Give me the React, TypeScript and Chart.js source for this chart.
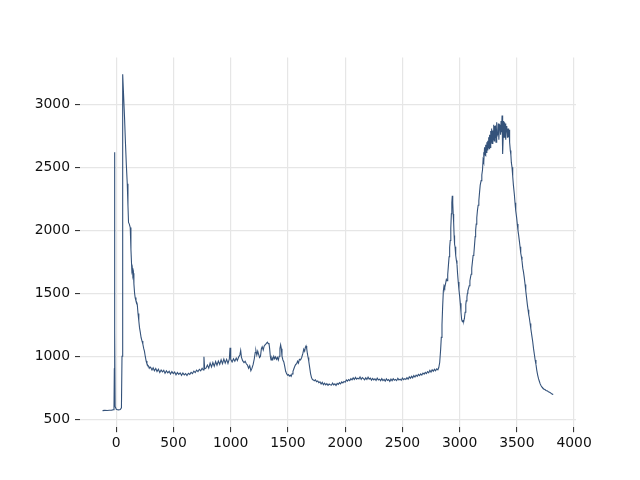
import React, { useEffect, useRef } from "react";
import { Chart, registerables } from "chart.js";

Chart.register(...registerables);

// Wavenumber positions (x)
const wavenumber: number[] = [
  -120, -100, -80, -60, -40, -25, -20, -17, -15, -13, -10, 0, 10, 20, 35, 45, 50, 54, 58, 65,
  72, 80, 88, 96, 102, 107, 114, 122, 128, 136, 140, 145, 150, 154, 160, 165, 172, 178, 183, 190,
  197, 203, 210, 217, 225, 232, 240, 246, 253, 261, 268, 275, 281, 288, 295,
  300, 312, 322, 333, 345, 356, 368, 380, 392, 404, 415, 426, 438, 450, 462, 474, 486, 498, 510,
  522, 534, 546, 558, 570, 582, 594, 606, 618, 630, 642, 654, 666, 678, 690, 702, 714, 726, 738,
  750, 760, 766, 772, 784,
  796, 808, 820, 832, 844, 856, 868, 880, 892, 904, 916, 928, 940, 952, 964, 976, 988, 994, 1000,
  1012, 1024, 1036, 1048, 1058, 1070, 1080, 1087, 1094, 1104, 1116, 1126, 1136, 1146, 1156, 1166,
  1176, 1186, 1196, 1206, 1214, 1220, 1228, 1236, 1244, 1252, 1260, 1268, 1275, 1284, 1292, 1300,
  1310, 1320, 1328, 1334, 1340, 1346, 1352, 1360, 1368, 1376, 1384, 1392, 1400, 1408, 1416, 1424,
  1430, 1436, 1442, 1448, 1456, 1464, 1472, 1480, 1488, 1496, 1504, 1512, 1520, 1528, 1536, 1544,
  1552, 1560, 1568, 1576, 1584, 1592, 1600, 1610, 1620, 1630, 1638, 1646, 1652, 1658, 1664, 1670,
  1676, 1682, 1690, 1698, 1706, 1714, 1722, 1730, 1740, 1750, 1760, 1770, 1780, 1790, 1800, 1810,
  1820, 1830, 1840, 1850, 1860, 1870, 1880, 1890, 1900, 1910, 1920, 1930, 1940, 1950, 1960, 1970,
  1980, 1990, 2000, 2010, 2020, 2030, 2040, 2050, 2060, 2070, 2080, 2090, 2100, 2110, 2120, 2130,
  2140, 2150, 2160, 2170, 2180, 2190, 2200, 2210, 2220, 2230, 2240, 2250, 2260, 2270, 2280, 2290,
  2300, 2310, 2320, 2330, 2340, 2350, 2360, 2370, 2380, 2390, 2400, 2410, 2420, 2430, 2440, 2450,
  2460, 2470, 2480, 2490, 2500, 2510, 2520, 2530, 2540, 2550, 2560, 2570, 2580, 2590, 2600, 2610,
  2620, 2630, 2640, 2650, 2660, 2670, 2680, 2690, 2700, 2710, 2720, 2730, 2740, 2750, 2760, 2770,
  2780, 2790, 2800, 2810, 2818, 2826, 2834, 2840, 2846, 2852, 2858, 2864, 2870, 2878, 2884, 2890,
  2896, 2902, 2908, 2913, 2918, 2923, 2928, 2932, 2936, 2940, 2944, 2948, 2952, 2956, 2960, 2964,
  2968, 2972, 2977, 2982, 2988, 2994, 3000, 3006, 3012, 3018, 3024, 3030, 3036, 3042, 3048, 3054,
  3058, 3064, 3068, 3072, 3078, 3084, 3090, 3096, 3101, 3106, 3112, 3118, 3124, 3130, 3136, 3140,
  3145, 3150, 3156, 3162, 3168, 3174, 3180, 3188, 3194, 3200, 3205, 3209, 3213, 3218, 3222, 3226,
  3230, 3234, 3238, 3242, 3246, 3250, 3254, 3258, 3262, 3267, 3272, 3276, 3280, 3284, 3290, 3294,
  3298, 3302, 3306, 3310, 3313, 3318, 3322, 3326, 3333, 3338, 3343, 3348, 3354, 3358, 3362, 3366,
  3371, 3375, 3377, 3381, 3385, 3388, 3391, 3395, 3399, 3403, 3406, 3410, 3414, 3418, 3420, 3424,
  3428, 3432, 3435, 3439, 3443, 3448, 3452, 3458, 3464, 3470, 3478, 3484, 3490, 3498, 3504, 3510,
  3516, 3522, 3528, 3534, 3540, 3545, 3552, 3558, 3565, 3572, 3578, 3585, 3592, 3598, 3604, 3609,
  3616, 3622, 3630, 3638, 3646, 3654, 3660, 3667, 3674, 3682, 3690, 3696, 3704, 3712, 3720, 3725,
  3735, 3745, 3755, 3768, 3780, 3790, 3800, 3811, 3818,
];

// Intensity values (y)
const intensity: number[] = [
  568, 570, 569, 571, 572, 575, 580, 900, 2620, 1200, 600, 578, 575, 574, 576, 590, 1000, 2200, 3240, 3050,
  2900, 2700, 2520, 2370, 2200, 2063, 2050, 2023, 1850, 1680, 1700, 1640, 1660, 1575, 1500, 1466, 1440, 1430, 1415, 1340,
  1280, 1227, 1190, 1147, 1120, 1097, 1060, 1041, 1000, 962, 940, 930, 922, 905, 915,
  912, 890, 908, 884, 902, 878, 896, 870, 890, 876, 888, 864, 884, 868, 880, 858, 878, 862, 874,
  852, 870, 856, 868, 848, 866, 852, 862, 846, 864, 856, 872, 862, 882, 870, 890, 878, 896, 884,
  904, 890, 995, 900, 905,
  930, 905, 945, 915, 950, 920, 958, 928, 962, 935, 972, 940, 978, 945, 975, 942, 978, 1068, 975,
  955, 980, 960, 985, 965, 995, 1010, 1045, 990, 965, 950, 960, 940, 930, 905, 925,
  885, 905, 935, 980, 1030, 1045, 1010, 1040, 1015, 990, 1000, 1060, 1075, 1050, 1080, 1090,
  1100, 1112, 1100, 1105, 1060, 1000, 970, 990, 975, 1000, 980, 995, 975, 990, 970, 1000,
  1060, 1090, 1060, 1000, 970, 955, 920, 880, 862, 850, 855, 842, 850, 840, 860, 880,
  900, 920, 935, 940, 960, 945, 975, 970, 990, 1020, 1055, 1040, 1070, 1082, 1060, 1020,
  990, 960, 910, 860, 830, 815, 812, 805, 812, 798, 804, 790, 796, 780, 792, 774,
  786, 772, 782, 768, 779, 774, 770, 786, 772, 780, 768, 784, 776, 790, 780, 796,
  788, 800, 794, 812, 802, 815, 806, 822, 812, 828, 815, 832, 818, 826, 820, 836,
  816, 830, 822, 812, 828, 816, 834, 818, 826, 810, 824, 812, 820, 808, 826, 812,
  818, 806, 822, 806, 816, 802, 820, 808, 814, 800, 818, 806, 822, 810, 816, 806,
  824, 812, 818, 808, 826, 814, 822, 816, 830, 818, 836, 824, 840, 828, 846, 834,
  850, 840, 856, 846, 860, 850, 866, 858, 872, 862, 878, 868, 888, 874, 892, 880,
  896, 884, 900, 892, 910, 950, 1050, 1150, 1250, 1400, 1520, 1560, 1545, 1580, 1610, 1600,
  1650, 1720, 1790, 1864, 1920, 2020, 2132, 2220, 2275, 2220, 2130, 2060, 1960, 1890, 1870, 1850,
  1800, 1760, 1732, 1660, 1590, 1530, 1480, 1420, 1350, 1290, 1275, 1282, 1278, 1300, 1350, 1410,
  1440, 1470, 1500, 1519, 1540, 1560, 1600, 1630, 1652, 1700, 1750, 1800, 1811, 1880, 1950, 2000,
  2050, 2100, 2160, 2200, 2236, 2300, 2360, 2395, 2440, 2480, 2560, 2620, 2540, 2660, 2600, 2594,
  2680, 2620, 2700, 2640, 2713, 2660, 2740, 2650, 2760, 2660, 2790, 2700, 2810, 2690, 2793, 2720,
  2840, 2710, 2830, 2740, 2833, 2700, 2860, 2740, 2767, 2850, 2720, 2840, 2833, 2760, 2870, 2780,
  2912, 2720, 2607, 2750, 2870, 2740, 2860, 2760, 2850, 2720, 2820, 2780, 2830, 2740, 2767, 2810,
  2740, 2800, 2793, 2700, 2634, 2600, 2540, 2501, 2430, 2360, 2289, 2220, 2160, 2103, 2050, 2000,
  1960, 1917, 1870, 1820, 1790, 1758, 1700, 1670, 1625, 1570, 1520, 1466, 1410, 1370, 1330, 1306,
  1260, 1220, 1170, 1121, 1060, 1010, 970, 936, 890, 850, 820, 803, 780, 765, 755, 749,
  740, 735, 728, 723, 715, 712, 705, 697, 700,
];

// Tick labels
const xTickValues: number[] = [0, 500, 1000, 1500, 2000, 2500, 3000, 3500, 4000];
const yTickValues: number[] = [500, 1000, 1500, 2000, 2500, 3000];

const xMin = -317;
const xMax = 4017;
const yMin = 436;
const yMax = 3373;

export default function App() {
  const canvasRef = useRef<HTMLCanvasElement | null>(null);

  useEffect(() => {
    if (!canvasRef.current) return;
    const n = Math.min(wavenumber.length, intensity.length);
    const points = wavenumber.slice(0, n).map((x, i) => ({ x, y: intensity[i] }));
    const tickFont = { family: "'DejaVu Sans', sans-serif", size: 13.9 };
    const gridCommon = {
      color: "#e6e6e6",
      lineWidth: 1.2,
      tickColor: "#222",
      tickLength: 5,
      tickWidth: 1,
    };
    const chart = new Chart(canvasRef.current, {
      type: "line",
      data: {
        datasets: [
          {
            data: points,
            borderColor: "#34527a",
            borderWidth: 1.1,
            pointRadius: 0,
            tension: 0,
            fill: false,
          },
        ],
      },
      options: {
        animation: false,
        responsive: false,
        devicePixelRatio: 1,
        layout: { padding: { top: 57.6, right: 64, bottom: 0, left: 0 } },
        plugins: { legend: { display: false }, tooltip: { enabled: false } },
        scales: {
          x: {
            type: "linear",
            min: xMin,
            max: xMax,
            border: { display: false },
            grid: gridCommon,
            ticks: {
              color: "#111",
              font: tickFont,
              padding: 3,
              maxRotation: 0,
              autoSkip: false,
              callback: (v: any) => String(v),
            },
            afterBuildTicks: (s: any) => {
              s.ticks = xTickValues.map((v) => ({ value: v }));
            },
            afterFit: (s: any) => {
              s.height = 52.8;
            },
          },
          y: {
            type: "linear",
            min: yMin,
            max: yMax,
            border: { display: false },
            grid: gridCommon,
            ticks: {
              color: "#111",
              font: tickFont,
              padding: 5,
              autoSkip: false,
              callback: (v: any) => String(v),
            },
            afterBuildTicks: (s: any) => {
              s.ticks = yTickValues.map((v) => ({ value: v }));
            },
            afterFit: (s: any) => {
              s.width = 80;
            },
          },
        },
      },
    });
    return () => chart.destroy();
  }, []);

  return (
    <div style={{ position: "absolute", left: 0, top: 0, width: 640, height: 480, background: "#fff" }}>
      <canvas ref={canvasRef} width={640} height={480} />
    </div>
  );
}
